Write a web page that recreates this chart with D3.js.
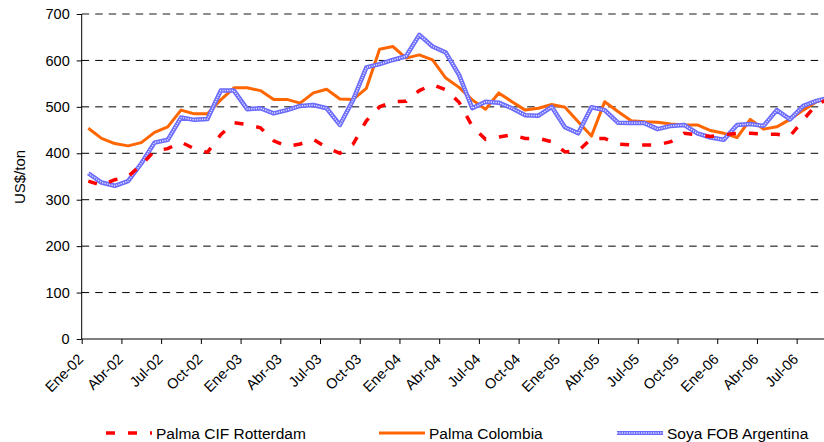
<!DOCTYPE html>
<html>
<head>
<meta charset="utf-8">
<script src="https://cdn.jsdelivr.net/npm/d3@7"></script>
<style>
  body { margin: 0; background: #fff; }
  svg { display: block; font-family: "Liberation Sans", Arial, sans-serif; }
</style>
</head>
<body>
<div id="chart"></div>
<script>
// months Ene-02 .. Sep-06
const monthNames = ["Ene", "Feb", "Mar", "Abr", "May", "Jun", "Jul", "Ago", "Sep", "Oct", "Nov", "Dic"];
const months = [];
for (let yr = 2; yr <= 6; yr++) {
  for (let m = 0; m < 12; m++) {
    if (yr === 6 && m > 8) break;
    months.push(monthNames[m] + "-0" + yr);
  }
}

const palmaRotterdam = [
  340, 331, 343, 350, 375, 405, 410, 424, 410, 402, 440, 466,
  462, 455, 427, 415, 420, 430, 412, 400, 420, 470, 500, 511,
  512, 535, 548, 537, 510, 458, 430, 435, 440, 432, 432, 425,
  403, 405, 432, 432, 420, 418, 418, 418, 425, 443, 440, 436,
  440, 443, 443, 441, 441, 437, 472, 505, 518
];
const palmaColombia = [
  454, 432, 421, 416, 423, 445, 457, 493, 485, 485, 515, 541,
  541, 535, 516, 516, 508, 530, 538, 517, 516, 540, 624, 630,
  605, 612, 601, 562, 542, 515, 495, 530, 511, 493, 497, 505,
  499, 468, 437, 511, 490, 470, 468, 467, 463, 461, 461, 449,
  443, 434, 473, 452, 457, 473, 493, 511, 520
];
const soyaArgentina = [
  357, 337, 330, 340, 378, 423, 429, 477, 472, 474, 535, 535,
  495, 497, 486, 493, 502, 504, 497, 461, 515, 585, 592, 601,
  609, 655, 630, 617, 569, 497, 511, 509, 497, 482, 481, 500,
  456, 443, 499, 493, 466, 465, 465, 452, 459, 461, 443, 434,
  429, 461, 463, 459, 493, 473, 502, 513, 520
];
const yTicks = [0, 100, 200, 300, 400, 500, 600, 700];
const seriesNames = ["Palma CIF Rotterdam", "Palma Colombia", "Soya FOB Argentina"];

const width = 824, height = 442;
const plotLeft = 81.7, plotTop = 14, plotBottom = 339;
const step = 13.24;

const svg = d3.select("#chart").append("svg")
  .attr("width", width)
  .attr("height", height);

const x = d3.scaleLinear()
  .domain([0, months.length])
  .range([plotLeft, plotLeft + step * months.length]);

const y = d3.scaleLinear()
  .domain([0, 700])
  .range([plotBottom, plotTop]);

// gridlines
svg.append("g")
  .selectAll("line")
  .data(yTicks.filter(d => d > 0))
  .enter()
  .append("line")
  .attr("x1", plotLeft)
  .attr("x2", width)
  .attr("y1", d => y(d))
  .attr("y2", d => y(d))
  .attr("stroke", d => d === 700 ? "#666" : "#000")
  .attr("stroke-width", d => d === 700 ? 1.6 : 1)
  .attr("stroke-dasharray", "7.5,6");

// y axis
const yAxis = svg.append("g")
  .attr("transform", `translate(${plotLeft},0)`)
  .call(d3.axisLeft(y).tickValues(yTicks).tickSize(5).tickPadding(7));
yAxis.selectAll("text").attr("font-size", "14.5px").attr("fill", "#000").style("font-family", "Liberation Sans, Arial, sans-serif");
yAxis.selectAll("line,path").attr("stroke", "#000");
yAxis.select(".domain").attr("d", `M0,${plotTop}V${plotBottom}`);

// x axis
const tickIdx = d3.range(0, 55, 3);
const xAxis = svg.append("g")
  .attr("transform", `translate(0,${plotBottom})`)
  .call(d3.axisBottom(x).tickValues(tickIdx).tickFormat(i => months[i]).tickSize(5).tickSizeOuter(0));
xAxis.select(".domain").attr("d", `M${plotLeft},0H${width}`).attr("stroke", "#000");
xAxis.selectAll("line").attr("stroke", "#000");
xAxis.selectAll("text")
  .attr("font-size", "14.5px")
  .attr("fill", "#000")
  .style("font-family", "Liberation Sans, Arial, sans-serif")
  .attr("text-anchor", "end")
  .attr("dy", null)
  .attr("y", null)
  .attr("transform", "translate(2,21) rotate(-45)");

// y title
svg.append("text")
  .attr("transform", `translate(25,177) rotate(-90)`)
  .attr("text-anchor", "middle")
  .attr("font-size", "15px")
  .text("US$/ton");

const line = d3.line()
  .x((d, i) => x(i + 0.5))
  .y(d => y(d))
  .curve(d3.curveLinear);

const plot = svg.append("g");

// Palma Colombia
plot.append("path")
  .datum(palmaColombia)
  .attr("d", line)
  .attr("fill", "none")
  .attr("stroke", "#FF6600")
  .attr("stroke-width", 3)
  .attr("stroke-linejoin", "round");

// Soya FOB Argentina (patterned)
plot.append("path")
  .datum(soyaArgentina)
  .attr("d", line)
  .attr("fill", "none")
  .attr("stroke", "#6a6aff")
  .attr("stroke-width", 4.5)
  .attr("stroke-linejoin", "round");
plot.append("path")
  .datum(soyaArgentina)
  .attr("d", line)
  .attr("fill", "none")
  .attr("stroke", "#e4e4ff")
  .attr("stroke-width", 1.5)
  .attr("stroke-dasharray", "1.2,1.2")
  .attr("stroke-linejoin", "round");

// Palma CIF Rotterdam
plot.append("path")
  .datum(palmaRotterdam)
  .attr("d", line)
  .attr("fill", "none")
  .attr("stroke", "#FF0000")
  .attr("stroke-width", 3.5)
  .attr("stroke-dasharray", "9,13");

// legend
const legendX = [106, 379, 617];
const legend = svg.append("g");
legend.selectAll("g")
  .data(seriesNames)
  .enter()
  .append("g")
  .attr("transform", (d, i) => `translate(${legendX[i]},433)`)
  .each(function (d, i) {
    const g = d3.select(this);
    if (i === 0) {
      g.append("line").attr("x1", 0).attr("x2", 46).attr("stroke", "#FF0000")
        .attr("stroke-width", 3.5).attr("stroke-dasharray", "9,13");
    } else if (i === 1) {
      g.append("line").attr("x1", 0).attr("x2", 46).attr("stroke", "#FF6600").attr("stroke-width", 3);
    } else {
      g.append("line").attr("x1", 0).attr("x2", 46).attr("stroke", "#6a6aff").attr("stroke-width", 4);
      g.append("line").attr("x1", 0).attr("x2", 46).attr("stroke", "#e4e4ff")
        .attr("stroke-width", 1.4).attr("stroke-dasharray", "1.2,1.2");
    }
    g.append("text")
      .attr("x", 50)
      .attr("y", 5.5)
      .attr("font-size", "15.5px")
      .text(d);
  });
</script>
</body>
</html>
